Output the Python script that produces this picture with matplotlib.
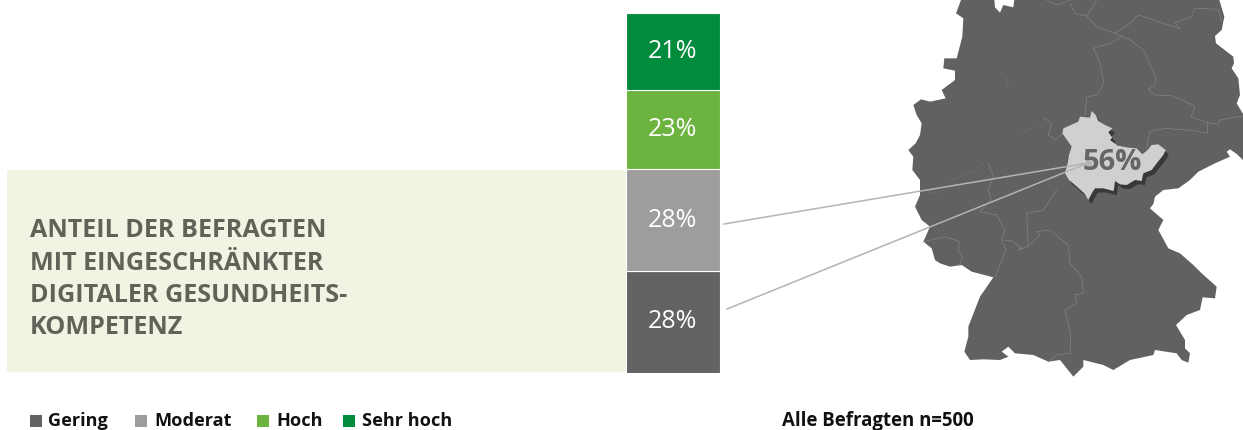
import numpy as np
from matplotlib import pyplot as plt
from matplotlib.patches import Polygon, Rectangle
from matplotlib.transforms import Affine2D
import matplotlib.patheffects as pe

plt.rcParams['font.family'] = ['Open Sans', 'DejaVu Sans']

W, H = 1243, 430

#stacked bar, bottom to top
categories = ['Gering', 'Moderat', 'Hoch', 'Sehr hoch']
bar_heights = [28.2, 28.5, 22.1, 21.2]  #as drawn in the picture
bar_labels = ['28%', '28%', '23%', '21%']
colors = ['#636363', '#9d9d9c', '#6cb33f', '#008c3c']

title_lines = ['ANTEIL DER BEFRAGTEN', 'MIT EINGESCHRÄNKTER',
               'DIGITALER GESUNDHEITS-', 'KOMPETENZ']
region_value = '56%'
note = 'Alle Befragten n=500'

#map shapes, traced at 3x zoom with origin at pixel (900, 0)
germany = [(183,0),(168,40),(190,55),(187,110),(170,175),(133,175),(130,205),(165,212),
           (165,240),(125,270),(137,295),(90,305),(63,298),(40,315),(50,345),(65,370),
           (60,405),(47,430),(25,450),(40,470),(37,510),(60,540),(60,585),(45,620),
           (65,660),(90,680),(70,725),(95,745),(105,780),(120,790),(150,800),(185,795),
           (215,815),(280,832),(240,890),(205,980),(205,1010),(193,1055),(210,1080),
           (250,1078),(300,1080),(325,1070),(305,1055),(325,1040),(345,1060),(400,1065),
           (445,1085),(480,1080),(520,1130),(550,1100),(550,1080),(610,1095),(640,1110),
           (690,1080),(760,1065),(765,1050),(830,1060),(845,1080),(865,1088),(870,1060),
           (855,1045),(855,1020),(828,975),(860,945),(900,930),(908,892),(945,895),
           (950,860),(905,820),(880,795),(840,760),(805,745),(775,690),(790,660),(750,625),
           (760,612),(765,590),(790,570),(835,565),(870,540),(895,515),(945,490),(990,470),
           (980,455),(990,448),(1010,462),(1029,480),(1040,480),(1040,340),(1028,340),
           (1010,310),(1020,285),(1015,235),(995,205),(1002,190),(1000,170),(948,130),
           (945,108),(965,90),(973,50),(958,0)]
bremen_gap = [(283,0),(285,22),(300,38),(310,15),(340,22),(343,0)]
thuringia = [(575,333),(587,345),(595,363),(615,375),(637,385),(625,397),(637,413),(630,420),
             (653,437),(685,443),(710,445),(727,463),(743,450),(755,435),(775,433),(797,450),
             (790,465),(770,490),(755,510),(730,520),(725,543),(705,540),(680,555),(660,553),
             (645,543),(643,560),(641,573),(610,565),(585,565),(577,577),(565,600),(553,580),
             (525,555),(507,540),(495,520),(503,490),(507,465),(515,440),(487,400),(490,385),
             (535,365),(540,350),(570,353)]
borders = [
    [(440,0),(470,15),(510,0)],
    [(510,10),(525,40),(560,48),(590,0)],
    [(560,48),(590,80),(645,100),(690,120),(730,150),(745,180),(755,205),(768,235),(765,255),
     (745,268),(765,285),(815,287),(885,318),(873,350),(922,368),(922,400),(880,392),(795,385),
     (750,395),(740,445)],
    [(645,100),(690,70),(715,45),(820,80),(840,85),(825,68),(875,50),(885,25),(955,28),(965,65)],
    [(665,110),(630,130),(580,145),(600,190),(612,250),(590,285),(560,290),(555,345)],
    [(922,368),(955,372),(960,360),(1028,348)],
    [(430,353),(455,370),(445,405),(465,420),(490,400)],
    [(265,490),(280,530),(265,570),(273,600),(240,635),(290,645),(315,690),(305,720),(318,750),
     (285,830)],
    [(70,725),(135,710),(178,725),(175,750),(188,775),(178,795)],
    [(310,720),(335,722),(365,745),(355,750),(385,738),(380,640),(430,630),(470,570)],
    [(385,738),(420,705),(410,695),(450,690),(505,735),(510,790),(545,830),(550,880),(525,885),
     (530,910),(495,930),(512,1000),(510,1060),(470,1065),(445,1085)],
]
faint_borders = [
    [(305,220),(325,240),(322,258)],
    [(145,545),(225,510),(250,490)],
    [(355,405),(410,375)],
    [(85,575),(120,582)],
]

fig = plt.figure(figsize=(W / 100, H / 100), dpi=100)
ax = fig.add_axes([0, 0, 1, 1])
ax.set_xlim(0, W)
ax.set_ylim(H, 0)
ax.axis('off')

#panel behind the bar
ax.add_patch(Rectangle((7, 170), 620, 202, color='#f0f4e3', lw=0))
for i, line in enumerate(title_lines):
    ax.text(30, 237 + i * 32.5, line, color='#5f6358', fontsize=18.1, fontweight='bold')

#map
zoom = Affine2D().scale(1 / 3).translate(900, 0) + ax.transData
ax.add_patch(Polygon(germany, closed=True, fc='#616161', ec='none', transform=zoom))
ax.add_patch(Polygon(bremen_gap, closed=True, fc='white', ec='none', transform=zoom))
for b in borders:
    b = np.array(b)
    ax.plot(b[:, 0], b[:, 1], color='#858585', lw=0.45, transform=zoom)
for b in faint_borders:
    b = np.array(b)
    ax.plot(b[:, 0], b[:, 1], color='#707070', lw=0.45, transform=zoom)
shape = Polygon(thuringia, closed=True, fc='#d0d0d0', ec='none', transform=zoom, zorder=3)
shape.set_path_effects([pe.SimplePatchShadow(offset=(2.2, -3), shadow_rgbFace='#383838', alpha=1),
                        pe.Normal()])
ax.add_patch(shape)

#connector lines
ax.plot([724, 1088], [224, 163], color='#b4b4b4', lw=1.1, zorder=4)
ax.plot([727, 1088], [309, 163], color='#b4b4b4', lw=1.1, zorder=4)
ax.plot(1088, 163, 'o', color='#b4b4b4', ms=4, zorder=4)
ax.text(1112, 163, region_value, color='#666666', fontsize=21, fontweight='bold',
        ha='center', va='center', zorder=5)

#stacked bar in its own axes
bar_ax = fig.add_axes([626 / W, 1 - 372.5 / H, 93.5 / W, 359 / H])
bar_ax.axis('off')
bar_ax.set_xlim(-0.5, 0.5)
bar_ax.set_ylim(0, 100)
bottom = 0
for h, c, lab in zip(bar_heights, colors, bar_labels):
    bar_ax.bar(0, h, width=1, bottom=bottom, color=c, edgecolor='white', linewidth=0.8)
    bar_ax.text(0, bottom + h / 2, lab, color='white', fontsize=18, ha='center', va='center')
    bottom += h

#legend row
leg_sq = [30, 135, 257, 343]
leg_txt = [48, 154, 276, 362]
for x0, x1, c, name in zip(leg_sq, leg_txt, colors, categories):
    ax.add_patch(Rectangle((x0, 415), 12, 12, color=c, lw=0))
    ax.text(x1, 426, name, color='#111111', fontsize=13.1, fontweight='bold')
ax.text(782, 426, note, color='#111111', fontsize=13.4, fontweight='bold')

fig.savefig('out.png', dpi=100)
